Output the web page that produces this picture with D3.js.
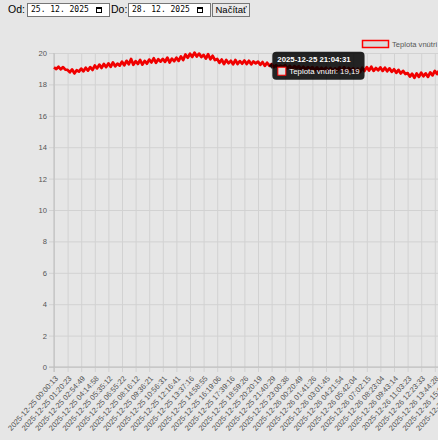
<!DOCTYPE html>
<html>
<head>
<meta charset="utf-8">
<script src="https://cdn.jsdelivr.net/npm/d3@7"></script>
<style>
  html, body { margin: 0; padding: 0; background: #e6e6e6; overflow: hidden; }
  body { width: 438px; height: 440px; position: relative; font-family: Arial, "Liberation Sans", sans-serif; }
  svg { position: absolute; left: 0; top: 0; }
  .ctl { position: absolute; top: 2px; font-size: 10.5px; line-height: 15px; color: #000; }
  .date { position: absolute; top: 3px; box-sizing: border-box; width: 83px; height: 14px;
          border: 1px solid #767676; background: #fff; font-family: "DejaVu Sans Mono", monospace;
          font-size: 8px; line-height: 12px; padding-left: 3px; }
  .cal { position: absolute; right: 7px; top: 3px; width: 4px; height: 3px; border: 1px solid #000; border-top-width: 2px; }
  .btn { position: absolute; top: 3px; left: 212px; box-sizing: border-box; width: 38px; height: 14px;
         border: 1px solid #767676; background: #e9e9e9; font-size: 9.5px; line-height: 12px; text-align: center; }
</style>
</head>
<body>
<svg id="chart" width="438" height="440"></svg>
<div class="ctl" style="left:8px">Od:</div>
<div class="date" style="left:27px">25. 12. 2025<span class="cal"></span></div>
<div class="ctl" style="left:111px">Do:</div>
<div class="date" style="left:128px">28. 12. 2025<span class="cal"></span></div>
<div class="btn">Načítať</div>
<script>
// x axis labels (category axis, one label every 6 samples)
const tickLabels = [
  "2025-12-25 00:00:13", "2025-12-25 01:20:23", "2025-12-25 02:54:49", "2025-12-25 04:14:58",
  "2025-12-25 05:35:12", "2025-12-25 06:55:22", "2025-12-25 08:16:12", "2025-12-25 09:36:21",
  "2025-12-25 10:56:31", "2025-12-25 12:16:41", "2025-12-25 13:37:16", "2025-12-25 14:58:55",
  "2025-12-25 16:19:06", "2025-12-25 17:39:16", "2025-12-25 18:59:26", "2025-12-25 20:20:19",
  "2025-12-25 21:40:29", "2025-12-25 23:00:38", "2025-12-26 00:20:49", "2025-12-26 01:41:26",
  "2025-12-26 03:01:45", "2025-12-26 04:21:54", "2025-12-26 05:42:04", "2025-12-26 07:02:15",
  "2025-12-26 08:23:04", "2025-12-26 09:43:14", "2025-12-26 11:03:23", "2025-12-26 12:23:33",
  "2025-12-26 13:44:28", "2025-12-26 15:04:38", "2025-12-26 16:24:47"
];

// inside temperature readings
const temps = [
  19.08, 18.98, 19.12, 18.96, 19.10, 18.94,
  18.92, 18.78, 18.95, 18.70, 18.90, 18.82,
  19.00, 18.84, 19.06, 18.88, 19.10, 18.92,
  19.20, 19.02, 19.26, 19.05, 19.30, 19.10,
  19.34, 19.12, 19.40, 19.16, 19.32, 19.20,
  19.45, 19.22, 19.50, 19.28, 19.62, 19.25,
  19.48, 19.30, 19.55, 19.26, 19.50, 19.32,
  19.58, 19.40, 19.66, 19.38, 19.60, 19.45,
  19.62, 19.44, 19.70, 19.40, 19.64, 19.48,
  19.70, 19.50, 19.78, 19.55, 19.90, 19.70,
  19.95, 19.75, 20.02, 19.78, 19.96, 19.74,
  19.88, 19.64, 19.92, 19.60, 19.82, 19.55,
  19.62, 19.38, 19.58, 19.30, 19.55, 19.35,
  19.50, 19.28, 19.55, 19.30, 19.48, 19.32,
  19.52, 19.30, 19.50, 19.28, 19.46, 19.34,
  19.45, 19.25, 19.42, 19.18, 19.38, 19.19,
  19.28, 19.10, 19.22, 19.08, 19.19, 19.12,
  19.22, 19.02, 19.18, 18.98, 19.16, 19.04,
  19.15, 18.96, 19.12, 18.94, 19.10, 18.98,
  19.10, 18.90, 19.08, 18.88, 19.06, 18.92,
  19.06, 18.86, 19.04, 18.84, 19.02, 18.88,
  19.08, 18.86, 19.10, 18.84, 19.04, 18.90,
  19.02, 18.80, 19.00, 18.78, 19.06, 18.86,
  19.10, 18.88, 19.12, 18.86, 19.04, 18.90,
  19.08, 18.86, 19.06, 18.84, 19.02, 18.80,
  18.96, 18.74, 18.92, 18.70, 18.86, 18.66,
  18.72, 18.50, 18.68, 18.42, 18.70, 18.48,
  18.74, 18.52, 18.70, 18.48, 18.76, 18.58,
  18.86, 18.66, 18.90, 18.64, 18.84, 18.70,
  18.80
];

const yTicks = [0, 2, 4, 6, 8, 10, 12, 14, 16, 18, 20];
const seriesName = "Teplota vnútri";
const hoverIndex = 95;
const hoverTime = "2025-12-25 21:04:31";

const perTick = 6, tickStep = 13.6;
const plot = {left: 54, top: 53, bottom: 367, right: 440};
const fontSize = 7.6;
const font = "Arial, 'Liberation Sans', sans-serif";

const svg = d3.select("#chart");

const x = d3.scaleLinear()
  .domain([0, (tickLabels.length - 1) * perTick])
  .range([plot.left, plot.left + (tickLabels.length - 1) * tickStep]);
const y = d3.scaleLinear()
  .domain([0, 20])
  .range([plot.bottom, plot.top]);

// horizontal grid + y labels
const yAxis = svg.append("g")
  .attr("transform", `translate(${plot.left - 5},0)`)
  .call(d3.axisLeft(y).tickValues(yTicks).tickSize(-(plot.right - plot.left + 5)).tickPadding(2));
yAxis.select(".domain").remove();
yAxis.selectAll("line").attr("stroke", "#d2d2d2");
yAxis.selectAll("text").attr("fill", "#555").style("font", `${fontSize}px ${font}`);

// vertical grid + rotated x labels
const xTickVals = tickLabels.map((d, i) => i * perTick);
const xAxis = svg.append("g")
  .attr("transform", `translate(0,${plot.bottom + 5})`)
  .call(d3.axisBottom(x).tickValues(xTickVals)
    .tickFormat(d => tickLabels[d / perTick])
    .tickSize(-(plot.bottom + 5 - plot.top)));
xAxis.select(".domain").remove();
xAxis.selectAll("line").attr("stroke", "#d2d2d2");
xAxis.selectAll("text")
  .attr("fill", "#555")
  .style("font", `${fontSize}px ${font}`)
  .attr("text-anchor", "end")
  .attr("y", 0)
  .attr("dy", "0.35em")
  .attr("transform", "translate(2,5) rotate(-48)");

// axis borders
svg.append("line").attr("x1", plot.left).attr("x2", plot.left)
  .attr("y1", plot.top).attr("y2", plot.bottom + 5)
  .attr("stroke", "#bdbdbd");
svg.append("line").attr("x1", plot.left - 5).attr("x2", plot.right)
  .attr("y1", plot.bottom).attr("y2", plot.bottom)
  .attr("stroke", "#bdbdbd");

// series line
const line = d3.line()
  .x((d, i) => x(i))
  .y(d => y(d));
svg.append("path")
  .datum(temps)
  .attr("fill", "none")
  .attr("stroke", "#f00000")
  .attr("stroke-width", 2.8)
  .attr("stroke-linejoin", "round")
  .attr("d", line);

// legend
const legend = svg.append("g").attr("transform", "translate(362,40)");
legend.append("rect")
  .attr("x", 0.5).attr("y", 0.5).attr("width", 26).attr("height", 7)
  .attr("fill", "#d9d9d9").attr("stroke", "#ff0000").attr("stroke-width", 1.5);
legend.append("text")
  .attr("x", 30).attr("y", 7)
  .attr("fill", "#555")
  .style("font", `${fontSize}px ${font}`)
  .text(seriesName);

// tooltip
const px = x(hoverIndex), py = y(temps[hoverIndex]);
const tip = svg.append("g").attr("transform", `translate(${px + 3},${py - 14})`);
const tipBg = tip.append("rect").attr("rx", 4).attr("ry", 4).attr("height", 28)
  .attr("fill", "rgba(0,0,0,0.85)");
tip.append("path")
  .attr("d", `M0,-3.5 L-3.5,0 L0,3.5 Z`)
  .attr("transform", "translate(0,14)")
  .attr("fill", "rgba(0,0,0,0.85)");
const title = tip.append("text")
  .attr("x", 5).attr("y", 10.5)
  .attr("fill", "#fff")
  .style("font", `bold 7.8px ${font}`)
  .text(hoverTime);
tip.append("rect")
  .attr("x", 5.5).attr("y", 15.5).attr("width", 8).attr("height", 8)
  .attr("fill", "#e0e0e0").attr("stroke", "#ff0000").attr("stroke-width", 1);
const body = tip.append("text")
  .attr("x", 17).attr("y", 22.5)
  .attr("fill", "#fff")
  .style("font", `7.8px ${font}`)
  .text(`${seriesName}: ${d3.format(".2f")(temps[hoverIndex]).replace(".", ",")}`);
const tipW = Math.max(title.node().getComputedTextLength() + 10, body.node().getComputedTextLength() + 22);
tipBg.attr("width", tipW);
</script>
</body>
</html>
